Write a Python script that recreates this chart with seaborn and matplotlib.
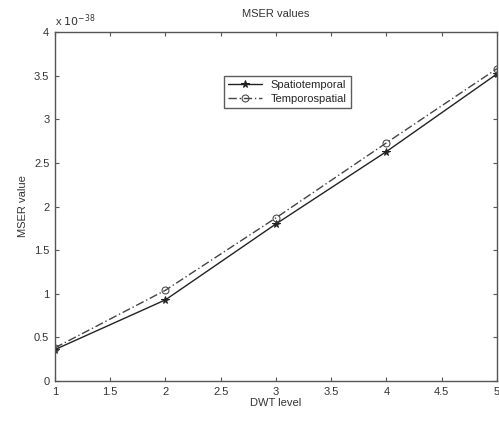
import numpy as np
import pandas as pd
import matplotlib
matplotlib.use("Agg")
import matplotlib.pyplot as plt
import matplotlib.ticker as mticker
import seaborn as sns

## DATA ##
levels = [1, 2, 3, 4, 5]
spatiotemporal = [0.36e-38, 0.93e-38, 1.80e-38, 2.63e-38, 3.52e-38]
temporospatial = [0.38e-38, 1.04e-38, 1.87e-38, 2.73e-38, 3.58e-38]
x_ticks = [1, 1.5, 2, 2.5, 3, 3.5, 4, 4.5, 5]
y_ticks = [0, 0.5e-38, 1e-38, 1.5e-38, 2e-38, 2.5e-38, 3e-38, 3.5e-38, 4e-38]
scale = 1e-38
##########

d = pd.DataFrame({
    "level": levels * 2,
    "val": spatiotemporal + temporospatial,
    "sec": ["Spatiotemporal"] * 5 + ["Temporospatial"] * 5,
})

sns.set_style("ticks")
plt.rcParams['font.family'] = ['Liberation Sans', 'DejaVu Sans']
plt.rcParams['xtick.direction'] = 'in'
plt.rcParams['ytick.direction'] = 'in'

fs = 8
fig = plt.figure(figsize=(4.99, 4.21), dpi=100)
ax = fig.add_axes([0.110, 0.095, 0.886, 0.829])

sns.lineplot(x="level", y="val", hue="sec", style="sec", data=d, ax=ax,
             palette=["#222222", "#444444"],
             dashes={"Spatiotemporal": "", "Temporospatial": (6, 2, 1, 2)},
             markers={"Spatiotemporal": "*", "Temporospatial": "o"},
             markersize=6, linewidth=1.0)

ax.set_xlim(1, 5)
ax.set_ylim(0, 4e-38)
ax.set_xticks(x_ticks)
ax.set_yticks(y_ticks)
ax.xaxis.set_major_formatter(mticker.FuncFormatter(lambda v, p: "%g" % v))
ax.yaxis.set_major_formatter(mticker.FuncFormatter(lambda v, p: "%g" % round(v / scale, 2)))
ax.text(0.0, 1.01, r"x $10^{-38}$", transform=ax.transAxes, fontsize=fs,
        color="#333333", ha="left", va="bottom")
ax.tick_params(labelsize=fs, top=True, right=True, length=3, color="#555555",
               labelcolor="#333333", pad=4)
for sp in ax.spines.values():
    sp.set_color("#555555")
    sp.set_linewidth(1.0)

ax.set_xlabel("DWT level", fontsize=fs, color="#333333", labelpad=1)
ax.set_ylabel("MSER value", fontsize=fs, color="#333333", labelpad=4)
ax.set_title("MSER values", fontsize=fs, color="#333333", pad=11)

leg = ax.legend(loc="upper left", bbox_to_anchor=(0.37, 0.89), fontsize=fs,
                frameon=True, fancybox=False, edgecolor="#333333",
                borderpad=0.4, handlelength=3, labelspacing=0.3)
leg.get_frame().set_linewidth(1.0)

# marker edges same as line, open circles
for line in list(ax.get_lines()) + list(leg.get_lines()):
    c = line.get_color()
    line.set_markeredgecolor(c)
    if line.get_marker() == "o":
        line.set_markerfacecolor("none")
        line.set_markersize(5)
    elif line.get_marker() == "*":
        line.set_markerfacecolor(c)
        line.set_markersize(5.5)

fig.savefig("out.png", dpi=100)
